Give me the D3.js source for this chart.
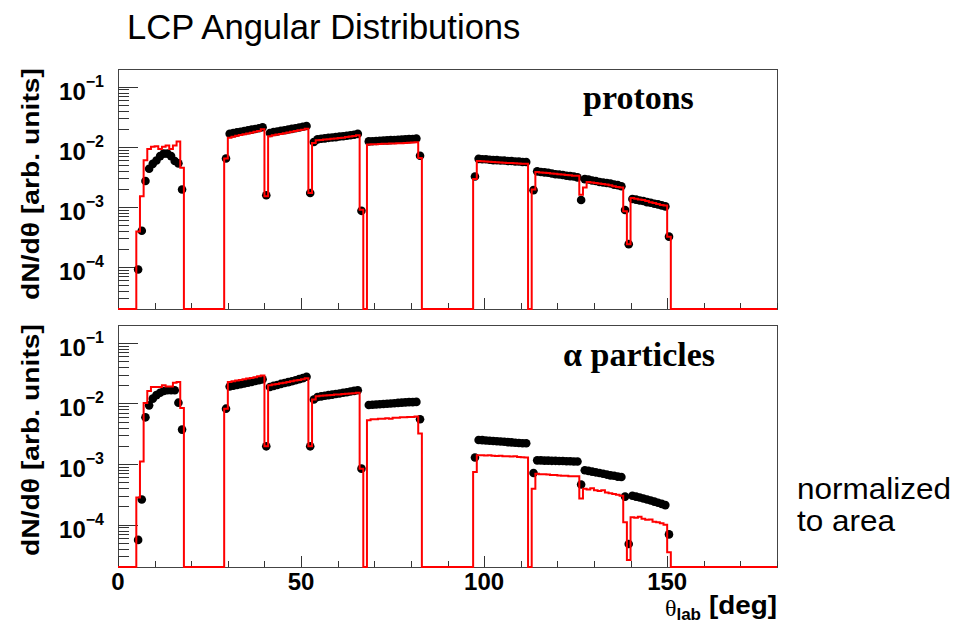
<!DOCTYPE html>
<html>
<head>
<meta charset="utf-8">
<title>LCP Angular Distributions</title>
<script src="https://d3js.org/d3.v7.min.js"></script>
<style>
body { margin:0; background:#fff; }
svg { display:block; }
text { font-family: "Liberation Sans", Arial, sans-serif; }
</style>
</head>
<body>
<svg id="chart" width="958" height="624"></svg>
<script>
// 1 deg bins, arrays start at bin 5 (5-6 deg) and run up to bin 151
var firstBin = 5;

// protons, data points
var protonData = [
  9.1e-5, 4.0e-4, 2.7e-3, 4.3e-3, 5.2e-3, 5.9e-3, 7.0e-3, 7.7e-3, 7.7e-3, 7.0e-3, 5.8e-3, 5.3e-3, 1.95e-3,
  0, 0, 0, 0, 0, 0, 0, 0, 0, 0, 0,
  6.4e-3, 1.65e-2, 1.69e-2, 1.74e-2, 1.78e-2, 1.83e-2, 1.88e-2, 1.93e-2, 1.98e-2, 2.03e-2, 2.12e-2, 1.56e-3,
  1.70e-2, 1.76e-2, 1.80e-2, 1.85e-2, 1.89e-2, 1.94e-2, 1.99e-2, 2.04e-2, 2.09e-2, 2.15e-2, 2.22e-2, 1.7e-3,
  1.2e-2, 1.33e-2, 1.36e-2, 1.38e-2, 1.41e-2, 1.43e-2, 1.45e-2, 1.48e-2, 1.50e-2, 1.53e-2, 1.56e-2, 1.59e-2, 1.64e-2, 8.6e-4, 0,
  1.23e-2, 1.24e-2, 1.25e-2, 1.26e-2, 1.27e-2, 1.28e-2, 1.29e-2, 1.30e-2, 1.31e-2, 1.32e-2, 1.33e-2, 1.34e-2, 1.35e-2, 1.37e-2, 7.1e-3,
  0, 0, 0, 0, 0, 0, 0, 0, 0, 0, 0, 0, 0, 0,
  3.2e-3, 6.3e-3, 6.2e-3, 6.2e-3, 6.1e-3, 6.0e-3, 6.0e-3, 5.9e-3, 5.9e-3, 5.8e-3, 5.8e-3, 5.7e-3, 5.7e-3, 5.6e-3, 5.6e-3, 0,
  1.9e-3, 3.9e-3, 3.8e-3, 3.75e-3, 3.7e-3, 3.6e-3, 3.5e-3, 3.45e-3, 3.4e-3, 3.3e-3, 3.25e-3, 3.2e-3, 3.1e-3, 1.3e-3,
  2.9e-3, 2.85e-3, 2.75e-3, 2.7e-3, 2.6e-3, 2.55e-3, 2.5e-3, 2.45e-3, 2.35e-3, 2.3e-3, 2.2e-3, 8.9e-4, 2.4e-4,
  1.35e-3, 1.32e-3, 1.28e-3, 1.25e-3, 1.2e-3, 1.17e-3, 1.13e-3, 1.1e-3, 1.06e-3, 1.02e-3, 3.2e-4,
  0
];
// protons, simulation (red)
var protonMC = [
  3.9e-4, 1.5e-3, 6.0e-3, 9.2e-3, 1.0e-2, 1.02e-2, 9.2e-3, 1.0e-2, 1.05e-2, 9.2e-3, 1.05e-2, 1.23e-2, 4.5e-3,
  0, 0, 0, 0, 0, 0, 0, 0, 0, 0, 0,
  6.4e-3, 1.42e-2, 1.47e-2, 1.52e-2, 1.57e-2, 1.62e-2, 1.67e-2, 1.72e-2, 1.78e-2, 1.84e-2, 1.95e-2, 1.5e-3,
  1.5e-2, 1.55e-2, 1.6e-2, 1.64e-2, 1.68e-2, 1.73e-2, 1.78e-2, 1.83e-2, 1.88e-2, 1.93e-2, 2.0e-2, 1.7e-3,
  1.16e-2, 1.28e-2, 1.3e-2, 1.32e-2, 1.34e-2, 1.36e-2, 1.38e-2, 1.4e-2, 1.42e-2, 1.45e-2, 1.48e-2, 1.51e-2, 1.55e-2, 9.0e-4, 0,
  1.09e-2, 1.1e-2, 1.1e-2, 1.11e-2, 1.12e-2, 1.12e-2, 1.13e-2, 1.14e-2, 1.15e-2, 1.15e-2, 1.16e-2, 1.17e-2, 1.18e-2, 1.19e-2, 6.5e-3,
  0, 0, 0, 0, 0, 0, 0, 0, 0, 0, 0, 0, 0, 0,
  2.9e-3, 5.8e-3, 5.75e-3, 5.7e-3, 5.65e-3, 5.6e-3, 5.55e-3, 5.5e-3, 5.45e-3, 5.4e-3, 5.35e-3, 5.3e-3, 5.25e-3, 5.2e-3, 5.2e-3, 0,
  1.95e-3, 3.8e-3, 3.75e-3, 3.7e-3, 3.65e-3, 3.6e-3, 3.55e-3, 3.5e-3, 3.45e-3, 3.4e-3, 3.35e-3, 3.3e-3, 3.3e-3, 1.6e-3,
  2.1e-3, 2.6e-3, 2.55e-3, 2.5e-3, 2.45e-3, 2.4e-3, 2.35e-3, 2.3e-3, 2.2e-3, 2.15e-3, 2.1e-3, 8.5e-4, 2.4e-4,
  1.4e-3, 1.37e-3, 1.33e-3, 1.3e-3, 1.25e-3, 1.2e-3, 1.16e-3, 1.12e-3, 1.08e-3, 1.05e-3, 3.2e-4,
  0
];
// alphas, data points
var alphaData = [
  5.6e-5, 2.6e-4, 5.9e-3, 9.3e-3, 1.2e-2, 1.37e-2, 1.5e-2, 1.6e-2, 1.65e-2, 1.65e-2, 1.65e-2, 1.03e-2, 3.7e-3,
  0, 0, 0, 0, 0, 0, 0, 0, 0, 0, 0,
  8.2e-3, 1.9e-2, 1.96e-2, 2.02e-2, 2.08e-2, 2.14e-2, 2.2e-2, 2.27e-2, 2.34e-2, 2.41e-2, 2.5e-2, 1.96e-3,
  1.87e-2, 1.95e-2, 2.02e-2, 2.1e-2, 2.17e-2, 2.25e-2, 2.33e-2, 2.42e-2, 2.52e-2, 2.62e-2, 2.75e-2, 1.96e-3,
  1.16e-2, 1.28e-2, 1.31e-2, 1.34e-2, 1.37e-2, 1.4e-2, 1.43e-2, 1.46e-2, 1.5e-2, 1.53e-2, 1.57e-2, 1.61e-2, 1.65e-2, 8.4e-4, 0,
  9.4e-3, 9.5e-3, 9.6e-3, 9.7e-3, 9.8e-3, 9.9e-3, 1.0e-2, 1.01e-2, 1.02e-2, 1.03e-2, 1.04e-2, 1.05e-2, 1.05e-2, 1.06e-2, 5.5e-3,
  0, 0, 0, 0, 0, 0, 0, 0, 0, 0, 0, 0, 0, 0,
  1.28e-3, 2.5e-3, 2.48e-3, 2.45e-3, 2.43e-3, 2.4e-3, 2.38e-3, 2.35e-3, 2.33e-3, 2.3e-3, 2.28e-3, 2.25e-3, 2.23e-3, 2.2e-3, 2.2e-3, 0,
  7.1e-4, 1.15e-3, 1.15e-3, 1.14e-3, 1.14e-3, 1.13e-3, 1.13e-3, 1.12e-3, 1.12e-3, 1.11e-3, 1.11e-3, 1.1e-3, 1.1e-3, 4.6e-4,
  7.9e-4, 7.7e-4, 7.5e-4, 7.3e-4, 7.1e-4, 6.9e-4, 6.7e-4, 6.5e-4, 6.4e-4, 6.2e-4, 6.1e-4, 2.9e-4, 4.8e-5,
  3.0e-4, 2.9e-4, 2.8e-4, 2.7e-4, 2.6e-4, 2.5e-4, 2.4e-4, 2.3e-4, 2.2e-4, 2.1e-4, 6.9e-5,
  0
];
// alphas, simulation (red)
var alphaMC = [
  2.8e-4, 1.1e-3, 1.02e-2, 1.6e-2, 1.87e-2, 1.87e-2, 1.87e-2, 2.0e-2, 1.9e-2, 1.9e-2, 2.2e-2, 2.26e-2, 8.4e-3,
  0, 0, 0, 0, 0, 0, 0, 0, 0, 0, 0,
  8.2e-3, 2.26e-2, 2.32e-2, 2.38e-2, 2.44e-2, 2.5e-2, 2.57e-2, 2.64e-2, 2.71e-2, 2.8e-2, 2.9e-2, 1.96e-3,
  2.0e-2, 2.05e-2, 2.1e-2, 2.15e-2, 2.2e-2, 2.26e-2, 2.32e-2, 2.38e-2, 2.44e-2, 2.5e-2, 2.6e-2, 1.96e-3,
  1.16e-2, 1.32e-2, 1.34e-2, 1.35e-2, 1.37e-2, 1.38e-2, 1.4e-2, 1.41e-2, 1.43e-2, 1.44e-2, 1.46e-2, 1.48e-2, 1.5e-2, 8.4e-4, 0,
  5.3e-3, 5.5e-3, 5.5e-3, 5.6e-3, 5.6e-3, 5.7e-3, 5.6e-3, 5.8e-3, 5.8e-3, 5.9e-3, 5.9e-3, 6.0e-3, 6.0e-3, 6.1e-3, 3.2e-3,
  0, 0, 0, 0, 0, 0, 0, 0, 0, 0, 0, 0, 0, 0,
  7.4e-4, 1.4e-3, 1.4e-3, 1.38e-3, 1.4e-3, 1.37e-3, 1.36e-3, 1.37e-3, 1.35e-3, 1.34e-3, 1.33e-3, 1.35e-3, 1.31e-3, 1.3e-3, 1.28e-3, 0,
  3.9e-4, 6.9e-4, 6.8e-4, 6.8e-4, 6.7e-4, 6.6e-4, 6.6e-4, 6.5e-4, 6.4e-4, 6.4e-4, 6.3e-4, 6.3e-4, 6.3e-4, 2.7e-4,
  3.9e-4, 3.8e-4, 4.0e-4, 3.7e-4, 3.6e-4, 3.7e-4, 3.4e-4, 3.3e-4, 3.2e-4, 3.1e-4, 3.0e-4, 1.1e-4, 2.6e-5,
  1.33e-4, 1.3e-4, 1.35e-4, 1.25e-4, 1.2e-4, 1.22e-4, 1.12e-4, 1.1e-4, 1.05e-4, 1.0e-4, 3.5e-5,
  0
];

var xTicks = [0, 50, 100, 150];
var yTicks = [1e-1, 1e-2, 1e-3, 1e-4];
var yExponents = ["\u22121", "\u22122", "\u22123", "\u22124"];

var left = 118, right = 777;
var yDomain = [2e-5, 0.197];
var serif = '"Liberation Serif", "Times New Roman", serif';
var panels = [
  {top: 69, bottom: 309, data: protonData, mc: protonMC, label: "protons", lx: 583, ly: 109},
  {top: 325, bottom: 567, data: alphaData, mc: alphaMC, label: "\u03b1 particles", lx: 563, ly: 366}
];

var svg = d3.select('#chart');
svg.append('rect').attr('width', 958).attr('height', 624).attr('fill', '#fff');

var x = d3.scaleLinear().domain([0, 180]).range([left, right]);

function valueAt(arr, b) {
  var i = b - firstBin;
  return (i >= 0 && i < arr.length) ? arr[i] : 0;
}

panels.forEach(function(p) {
  var y = d3.scaleLog().domain(yDomain).range([p.bottom, p.top]);
  var g = svg.append('g');

  g.append('rect')
    .attr('x', left + 0.5).attr('y', p.top + 0.5)
    .attr('width', right - left).attr('height', p.bottom - p.top)
    .attr('fill', 'none').attr('stroke', '#444').attr('stroke-width', 1);

  // log ticks on the left
  for (var e = -5; e <= -1; e++) {
    for (var m = 1; m <= 9; m++) {
      var v = m * Math.pow(10, e);
      if (v < yDomain[0] || v > yDomain[1]) continue;
      var yy = Math.round(y(v)) + 0.5;
      g.append('line')
        .attr('x1', left).attr('x2', left + (m === 1 ? 20 : 11))
        .attr('y1', yy).attr('y2', yy)
        .attr('stroke', '#333').attr('stroke-width', 1);
    }
  }
  // x ticks
  d3.range(0, 181, 10).forEach(function(t) {
    var xx = Math.round(x(t)) + 0.5;
    g.append('line')
      .attr('x1', xx).attr('x2', xx)
      .attr('y1', p.bottom).attr('y2', p.bottom - (t % 50 === 0 ? 11 : 6))
      .attr('stroke', '#333').attr('stroke-width', 1);
  });

  // y tick labels 10^-n
  yTicks.forEach(function(t, i) {
    var ty = y(t);
    var txt = g.append('text')
      .attr('x', 104).attr('y', ty + 13)
      .attr('text-anchor', 'end')
      .attr('font-weight', 'bold').attr('font-size', 24);
    txt.append('tspan').text('10');
    txt.append('tspan').attr('dy', -13).attr('font-size', 16).text(yExponents[i]);
  });

  // y axis title
  g.append('text')
    .attr('transform', 'translate(39,' + (p.top - 1) + ') rotate(-90)')
    .attr('text-anchor', 'end')
    .attr('font-weight', 'bold').attr('font-size', 24)
    .attr('textLength', 232).attr('lengthAdjust', 'spacingAndGlyphs')
    .text('dN/d\u03b8 [arb. units]');

  // data points
  var pts = [];
  p.data.forEach(function(v, i) { if (v > 0) pts.push([firstBin + i + 0.5, v]); });
  g.selectAll('circle.pt').data(pts).enter().append('circle')
    .attr('class', 'pt')
    .attr('cx', function(d) { return x(d[0]); })
    .attr('cy', function(d) { return y(d[1]); })
    .attr('r', 4.3).attr('fill', '#000');

  // simulation as step histogram over the whole axis
  var steps = [];
  for (var b = 0; b < 180; b++) {
    var mv = valueAt(p.mc, b);
    steps.push([b, mv], [b + 1, mv]);
  }
  var line = d3.line()
    .x(function(d) { return x(d[0]); })
    .y(function(d) { return d[1] > 0 ? y(Math.max(d[1], yDomain[0])) : p.bottom; });
  g.append('path')
    .attr('d', line(steps))
    .attr('fill', 'none').attr('stroke', '#ff0000').attr('stroke-width', 2)
    .attr('stroke-linejoin', 'miter');

  // particle label
  g.append('text')
    .attr('x', p.lx).attr('y', p.ly)
    .style('font-family', serif)
    .attr('font-weight', 'bold').attr('font-size', 34)
    .text(p.label);
});

// x tick labels (lower panel only)
svg.selectAll('text.xt').data(xTicks).enter().append('text')
  .attr('class', 'xt')
  .attr('x', function(d) { return x(d); })
  .attr('y', 590)
  .attr('text-anchor', 'middle')
  .attr('font-weight', 'bold').attr('font-size', 24)
  .text(function(d) { return d; });

// x axis title: theta_lab, then the unit
var xt = svg.append('text')
  .attr('x', 701).attr('y', 616)
  .attr('text-anchor', 'end')
  .attr('font-size', 24);
xt.append('tspan').style('font-family', serif).text('\u03b8');
xt.append('tspan').attr('dy', 4).attr('font-size', 17).attr('font-weight', 'bold').text('lab');
svg.append('text')
  .attr('x', right).attr('y', 614)
  .attr('text-anchor', 'end')
  .attr('font-weight', 'bold').attr('font-size', 26)
  .attr('textLength', 68).attr('lengthAdjust', 'spacingAndGlyphs')
  .text('[deg]');

// title
svg.append('text')
  .attr('x', 127).attr('y', 39)
  .attr('font-size', 34.6)
  .text('LCP Angular Distributions');

// side note
svg.append('text').attr('x', 797).attr('y', 499).attr('font-size', 30)
  .attr('textLength', 154).attr('lengthAdjust', 'spacingAndGlyphs').text('normalized');
svg.append('text').attr('x', 797).attr('y', 531).attr('font-size', 30)
  .attr('textLength', 98).attr('lengthAdjust', 'spacingAndGlyphs').text('to area');
</script>
</body>
</html>
